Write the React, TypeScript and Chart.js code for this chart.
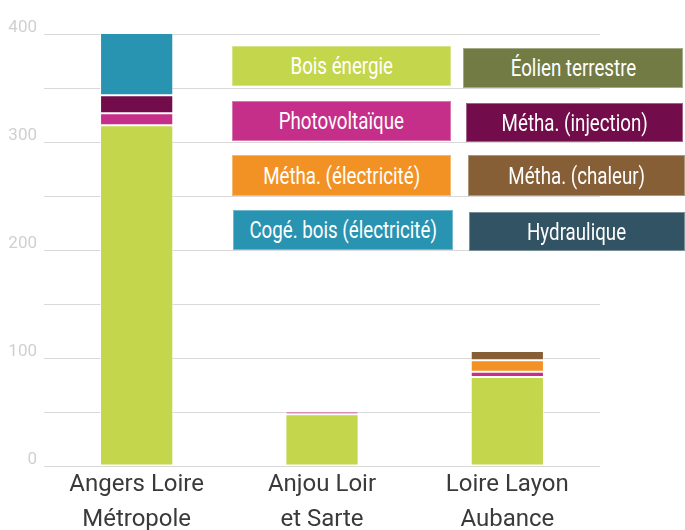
import React, { useEffect, useRef } from "react";
import { Chart, registerables } from "chart.js";

Chart.register(...registerables);

const FONT = 'Roboto, "DejaVu Sans", sans-serif';

const categories: string[][] = [
  ["Angers Loire", "Métropole"],
  ["Anjou Loir", "et Sarte"],
  ["Loire Layon", "Aubance"],
];

const seriesNames = [
  "Bois énergie",
  "Éolien terrestre",
  "Photovoltaïque",
  "Métha. (injection)",
  "Métha. (électricité)",
  "Métha. (chaleur)",
  "Cogé. bois (électricité)",
  "Hydraulique",
];

const seriesColors = [
  "#c4d64b",
  "#737b45",
  "#c52e89",
  "#720c4a",
  "#f39224",
  "#875f36",
  "#2993b2",
  "#325363",
];

const boisEnergie = [315.6, 48, 82.5];
const eolien = [null, null, null];
const photovoltaique = [11, 2.5, 4.7];
const methaInjection = [16.7, null, null];
const methaElectricite = [null, null, 10.8];
const methaChaleur = [null, null, 8.4];
const cogeBois = [58.4, null, null];
const hydraulique = [null, null, null];

const seriesValues = [
  boisEnergie,
  eolien,
  photovoltaique,
  methaInjection,
  methaElectricite,
  methaChaleur,
  cogeBois,
  hydraulique,
];

const yMin = 0;
const yMax = 400;
const yStep = 50;
const yLabelStep = 100;

// legend layout: [left, top, width, height]
const legendBoxes = [
  [232, 46, 219, 40],
  [463, 48, 220, 40],
  [232, 101, 219, 40],
  [466, 103, 217, 39],
  [232, 155, 219, 41],
  [468, 155, 217, 41],
  [233, 210, 220, 40],
  [469, 212, 216, 39],
];

export default function App() {
  const ref = useRef<HTMLCanvasElement | null>(null);

  useEffect(() => {
    if (!ref.current) return;
    const chart = new Chart(ref.current, {
      type: "bar",
      data: {
        labels: categories as any,
        datasets: seriesNames.map((name, i) => ({
          label: name,
          data: seriesValues[i] as any,
          backgroundColor: seriesColors[i],
          borderColor: "rgba(255,255,255,0.75)",
          borderWidth: 1,
          borderSkipped: false,
          categoryPercentage: 1,
          barPercentage: 0.395,
        })),
      },
      options: {
        responsive: false,
        maintainAspectRatio: false,
        animation: false,
        layout: { padding: { left: 0, right: 85, top: 34, bottom: 0 } },
        plugins: {
          legend: { display: false },
          tooltip: { enabled: false },
        },
        scales: {
          x: {
            stacked: true,
            grid: { display: false, drawTicks: false },
            border: { display: false },
            ticks: {
              color: "#3a3a3a",
              font: { family: FONT, size: 24, lineHeight: 1.45 },
              padding: 2,
              maxRotation: 0,
              autoSkip: false,
            },
            afterFit: (s: any) => {
              s.height = 64;
            },
          },
          y: {
            stacked: true,
            min: yMin,
            max: yMax,
            grid: { color: "#d9d9d9", drawTicks: false, lineWidth: 1 },
            border: { display: false },
            ticks: {
              stepSize: yStep,
              color: "#d0d0d0",
              padding: 7,
              font: { family: FONT, size: 17, lineHeight: 0.75 },
              callback: (v: any) => (Number(v) % yLabelStep === 0 ? [String(v), ""] : ""),
            },
            afterFit: (s: any) => {
              s.width = 44;
            },
          },
        },
      },
    });
    return () => chart.destroy();
  }, []);

  return (
    <div style={{ position: "fixed", left: 0, top: 0, width: 685, height: 530, background: "#fff" }}>
      <canvas ref={ref} width={685} height={530} style={{ width: 685, height: 530, display: "block" }} />
      {seriesNames.map((name, i) => {
        const [l, t, w, h] = legendBoxes[i];
        return (
          <div
            key={name}
            style={{
              position: "absolute",
              left: l,
              top: t,
              width: w,
              height: h,
              boxSizing: "border-box",
              background: seriesColors[i],
              border: "1px solid rgba(255,255,255,0.35)",
              color: "#fff",
              fontFamily: FONT,
              fontSize: 24,
              display: "flex",
              alignItems: "center",
              justifyContent: "center",
              whiteSpace: "nowrap",
            }}
          >
            <span style={{ display: "inline-block", transform: "scaleX(0.78)" }}>{name}</span>
          </div>
        );
      })}
    </div>
  );
}
